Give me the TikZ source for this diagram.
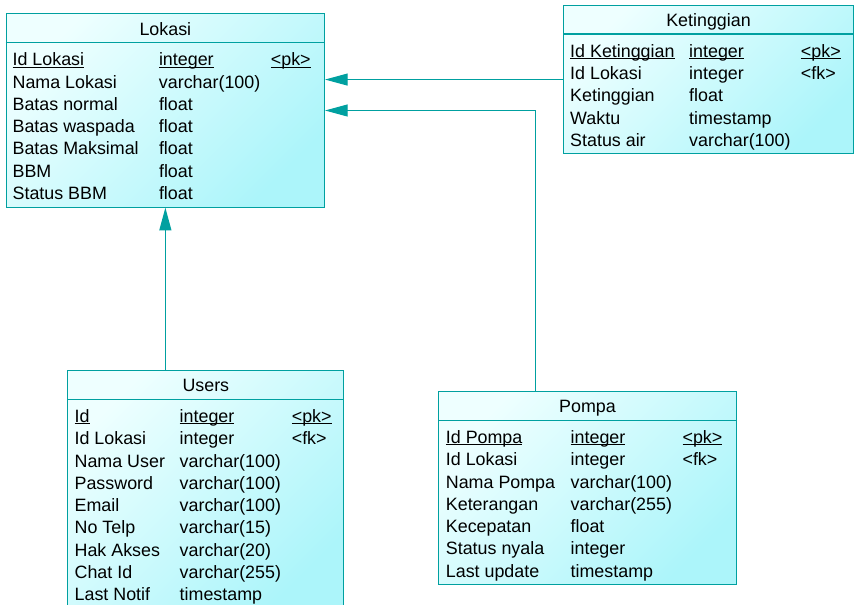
\documentclass[tikz,border=0pt]{standalone}
\usepackage{fontspec}
\setmainfont{Liberation Sans}
\usepackage{array}
\usetikzlibrary{arrows.meta,calc,positioning}
\definecolor{cline}{RGB}{0,160,160}
\definecolor{clight}{RGB}{238,255,255}
\definecolor{cdark}{RGB}{172,245,250}
\newcommand{\erfont}{\fontsize{13.4}{16.7}\selectfont}
\newsavebox{\ulbox}
\newcommand{\keyul}[1]{\leavevmode\sbox{\ulbox}{#1}\rlap{\rule[-1.3pt]{\wd\ulbox}{0.6pt}}#1}
\def\hdr{22pt}
\tikzset{
  entity/.style={rectangle,draw=cline,line width=0.8pt,top color=clight,
    bottom color=cdark,shading angle=45,inner sep=0pt,anchor=north west},
  hdrline/.style={cline,line width=0.8pt},
  enttitle/.style={anchor=base,inner sep=0pt,font=\erfont},
  attrs/.style={anchor=north west,inner sep=0pt,font=\erfont},
  rel/.style={cline,line width=0.8pt,-{Triangle[length=17pt,width=9pt]}}
}

\begin{document}
\begin{tikzpicture}[x=0.75pt,y=-0.75pt]
\useasboundingbox (0,0) rectangle (854,605);
% ---------------- Lokasi ----------------
\node[entity,minimum width=238.7pt,minimum height=145pt] (lokasi) at (5.7,13.3) {};
\draw[hdrline] ([yshift=-\hdr]lokasi.north west) -- ([yshift=-\hdr]lokasi.north east);
\node[enttitle] (lokasititle) at ([yshift=-16.5pt]lokasi.north) {Lokasi};
\node[attrs] (lokasiattr) at ([xshift=5pt,yshift=-27.5pt]lokasi.north west) {%
  \begin{tabular}{@{}p{109.8pt}@{}p{83.9pt}@{}l@{}}
  \keyul{Id Lokasi} & \keyul{integer} & \keyul{<pk>}\\
  Nama Lokasi & varchar(100) & \\
  Batas normal & float & \\
  Batas waspada & float & \\
  Batas Maksimal & float & \\
  BBM & float & \\
  Status BBM & float &
  \end{tabular}};
% ---------------- Ketinggian ----------------
\node[entity,minimum width=217pt,minimum height=111.5pt] (keting) at (563.3,4.7) {};
\draw[hdrline] ([yshift=-\hdr]keting.north west) -- ([yshift=-\hdr]keting.north east);
\node[enttitle] (ketingtitle) at ([yshift=-16.5pt]keting.north) {Ketinggian};
\node[attrs] (ketingattr) at ([xshift=5pt,yshift=-27.5pt]keting.north west) {%
  \begin{tabular}{@{}p{89.25pt}@{}p{83.8pt}@{}l@{}}
  \keyul{Id Ketinggian} & \keyul{integer} & \keyul{<pk>}\\
  Id Lokasi & integer & <fk>\\
  Ketinggian & float & \\
  Waktu & timestamp & \\
  Status air & varchar(100) &
  \end{tabular}};
% ---------------- Users ----------------
\node[entity,minimum width=207pt,minimum height=180pt] (users) at (67.3,370) {};
\draw[hdrline] ([yshift=-\hdr]users.north west) -- ([yshift=-\hdr]users.north east);
\node[enttitle] (userstitle) at ([yshift=-16.5pt]users.north) {Users};
\node[attrs] (usersattr) at ([xshift=5.3pt,yshift=-27.5pt]users.north west) {%
  \begin{tabular}{@{}p{78.8pt}@{}p{84.1pt}@{}l@{}}
  \keyul{Id} & \keyul{integer} & \keyul{<pk>}\\
  Id Lokasi & integer & <fk>\\
  Nama User & varchar(100) & \\
  Password & varchar(100) & \\
  Email & varchar(100) & \\
  No Telp & varchar(15) & \\
  Hak Akses & varchar(20) & \\
  Chat Id & varchar(255) & \\
  Last Notif & timestamp &
  \end{tabular}};
% ---------------- Pompa ----------------
\node[entity,minimum width=223pt,minimum height=144.75pt] (pompa) at (438.3,391) {};
\draw[hdrline] ([yshift=-\hdr]pompa.north west) -- ([yshift=-\hdr]pompa.north east);
\node[enttitle] (pompatitle) at ([yshift=-16.5pt]pompa.north) {Pompa};
\node[attrs] (pompaattr) at ([xshift=5.5pt,yshift=-27.5pt]pompa.north west) {%
  \begin{tabular}{@{}p{93.6pt}@{}p{83.9pt}@{}l@{}}
  \keyul{Id Pompa} & \keyul{integer} & \keyul{<pk>}\\
  Id Lokasi & integer & <fk>\\
  Nama Pompa & varchar(100) & \\
  Keterangan & varchar(255) & \\
  Kecepatan & float & \\
  Status nyala & integer & \\
  Last update & timestamp &
  \end{tabular}};
% ---------------- references ----------------
\draw[rel] (keting.west) -- (keting.west -| lokasi.east);
\draw[rel] ($(pompa.north west)!.327!(pompa.north east)$) |- (lokasi.east);
\draw[rel] (users.north -| lokasi.south) -- (lokasi.south);
\end{tikzpicture}
\end{document}
